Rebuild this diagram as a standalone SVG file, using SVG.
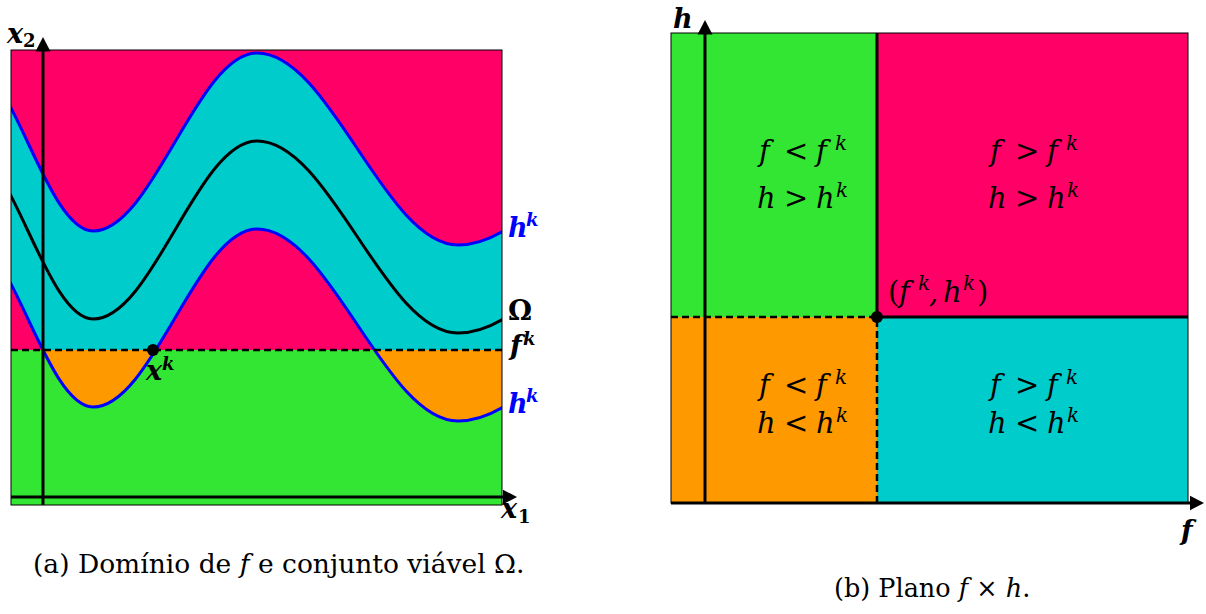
<svg xmlns="http://www.w3.org/2000/svg" xmlns:xlink="http://www.w3.org/1999/xlink" width="1206" height="614" viewBox="0 0 1206 614">
<style>
.mag{fill:#ff0066}.cya{fill:#00cccc}.grn{fill:#33e633}.org{fill:#ff9900}
.frame{fill:none;stroke:#000;stroke-width:1}
.axis{fill:none;stroke:#000;stroke-width:3;marker-end:url(#arr)}
.thick{fill:none;stroke:#000;stroke-width:3}
.dash{fill:none;stroke:#000;stroke-width:2.5;stroke-dasharray:7 4}
.blue{fill:none;stroke:#0000ff;stroke-width:3}
.blk{fill:none;stroke:#000;stroke-width:3}
text{font-family:"DejaVu Serif",serif}
.m{font-style:italic;font-size:29px;fill:#000}
.sup{font-size:20px}
.bl{font-style:italic;font-weight:bold;font-size:27px;fill:#000}
.bs{font-size:18px}
.bt{fill:#0000ff}
.cap{fill:#000}
.it{font-style:italic}
.up{font-style:normal}
</style>
<defs>
<marker id="arr" markerUnits="userSpaceOnUse" markerWidth="15" markerHeight="16" viewBox="0 0 15 16" refX="0.5" refY="8" orient="auto">
<path d="M0,0.5 L14.5,8 L0,15.5 Z" fill="#000"/>
</marker>
<path id="curveT" d="M-38,53 C9.6,53 45.4,231 93,231 C152.5,231 197.5,53 257,53 C330,53 385,245 458,245 C555,245 629,45 726,45"/>
<clipPath id="clipRect"><rect x="11" y="50" width="491" height="455"/></clipPath>
<clipPath id="clipUp"><rect x="11" y="50" width="491" height="300"/></clipPath>
<clipPath id="clipLow"><rect x="11" y="350" width="491" height="155"/></clipPath>
<path id="band" d="M-38,53 C9.6,53 45.4,231 93,231 C152.5,231 197.5,53 257,53 C330,53 385,245 458,245 C555,245 629,45 726,45 L726,221 C629,221 555,421 458,421 C385,421 330,229 257,229 C197.5,229 152.5,407 93,407 C45.4,407 9.6,229 -38,229 Z"/>
</defs>

<g id="left-panel">
<g id="left-regions">
<rect class="grn" x="11" y="50" width="491" height="455"/>
<rect class="mag" x="11" y="50" width="491" height="300"/>
<use xlink:href="#band" class="cya" clip-path="url(#clipUp)"/>
<use xlink:href="#band" class="org" clip-path="url(#clipLow)"/>
</g>
<g id="left-curves" clip-path="url(#clipRect)">
<use xlink:href="#curveT" class="blue"/>
<use xlink:href="#curveT" class="blk" transform="translate(0,88)"/>
<use xlink:href="#curveT" class="blue" transform="translate(0,176)"/>
</g>
<line id="fk-level" class="dash" x1="11" y1="350" x2="502" y2="350"/>
<rect class="frame" x="11" y="50" width="491" height="455"/>
<g id="left-axes">
<line class="axis" x1="43" y1="505" x2="43" y2="51"/>
<line class="axis" x1="11" y1="497" x2="503" y2="497"/>
</g>
<circle id="xk-point" cx="153" cy="350" r="6" fill="#000"/>
<g id="left-labels">
<text class="bl" y="43"><tspan x="7">x</tspan><tspan class="up bs" x="23" y="47">2</tspan></text>
<text class="bl" y="518"><tspan x="501">x</tspan><tspan class="up bs" x="518" y="523">1</tspan></text>
<text class="bl" y="380"><tspan x="146">x</tspan><tspan class="bs" x="162" y="370">k</tspan></text>
<text class="bl bt" y="237"><tspan x="508">h</tspan><tspan class="bs" x="526" y="226">k</tspan></text>
<text class="bl" x="508" y="320" font-size="25" style="font-style:normal">Ω</text>
<text class="bl" y="355"><tspan x="510">f</tspan><tspan class="bs" x="523" y="345">k</tspan></text>
<text class="bl bt" y="413"><tspan x="508">h</tspan><tspan class="bs" x="526" y="402">k</tspan></text>
</g>
</g>

<g id="right-panel">
<g id="right-regions">
<rect id="q-green" class="grn" x="671" y="33" width="206" height="284"/>
<rect id="q-magenta" class="mag" x="877" y="33" width="311" height="284"/>
<rect id="q-orange" class="org" x="671" y="317" width="206" height="186"/>
<rect id="q-cyan" class="cya" x="877" y="317" width="311" height="186"/>
<rect class="frame" x="671" y="33" width="517" height="470"/>
</g>
<g id="right-connectors">
<path class="thick" d="M877,33 V317 H1188"/>
<path class="dash" d="M671,317 H877 V503"/>
<line class="axis" x1="705" y1="503" x2="705" y2="34"/>
<line class="axis" x1="671" y1="503" x2="1190" y2="503"/>
</g>
<circle id="fkhk-point" cx="877" cy="317" r="6" fill="#000"/>
<g id="right-labels">
<text class="bl" x="673" y="28">h</text>
<text class="bl" x="1181" y="540">f</text>
<text class="m" y="302"><tspan class="up" x="888">(</tspan><tspan x="899">f</tspan><tspan class="sup" x="918" y="290">k</tspan><tspan x="929" y="302">,</tspan><tspan x="943">h</tspan><tspan class="sup" x="963" y="290">k</tspan><tspan class="up" x="977" y="302">)</tspan></text>

<text class="m" y="161"><tspan x="759">f</tspan><tspan class="up" x="784">&lt;</tspan><tspan x="816">f</tspan><tspan class="sup" x="835" y="150">k</tspan></text>
<text class="m" y="208"><tspan x="757">h</tspan><tspan class="up" x="784">&gt;</tspan><tspan x="816">h</tspan><tspan class="sup" x="836" y="197">k</tspan></text>

<text class="m" y="161"><tspan x="990">f</tspan><tspan class="up" x="1015">&gt;</tspan><tspan x="1047">f</tspan><tspan class="sup" x="1066" y="150">k</tspan></text>
<text class="m" y="208"><tspan x="988">h</tspan><tspan class="up" x="1015">&gt;</tspan><tspan x="1047">h</tspan><tspan class="sup" x="1067" y="197">k</tspan></text>

<text class="m" y="395"><tspan x="759">f</tspan><tspan class="up" x="784">&lt;</tspan><tspan x="816">f</tspan><tspan class="sup" x="835" y="384">k</tspan></text>
<text class="m" y="433"><tspan x="757">h</tspan><tspan class="up" x="784">&lt;</tspan><tspan x="816">h</tspan><tspan class="sup" x="836" y="422">k</tspan></text>

<text class="m" y="395"><tspan x="990">f</tspan><tspan class="up" x="1015">&gt;</tspan><tspan x="1047">f</tspan><tspan class="sup" x="1066" y="384">k</tspan></text>
<text class="m" y="433"><tspan x="988">h</tspan><tspan class="up" x="1015">&lt;</tspan><tspan x="1047">h</tspan><tspan class="sup" x="1067" y="422">k</tspan></text>
</g>
</g>

<g id="captions">
<text class="cap" x="33" y="573" font-size="26.5">(a) Domínio de <tspan class="it">f</tspan> e conjunto viável Ω.</text>
<text class="cap" x="834" y="597" font-size="25.5">(b) Plano <tspan class="it">f</tspan> × <tspan class="it">h</tspan>.</text>
</g>
</svg>
